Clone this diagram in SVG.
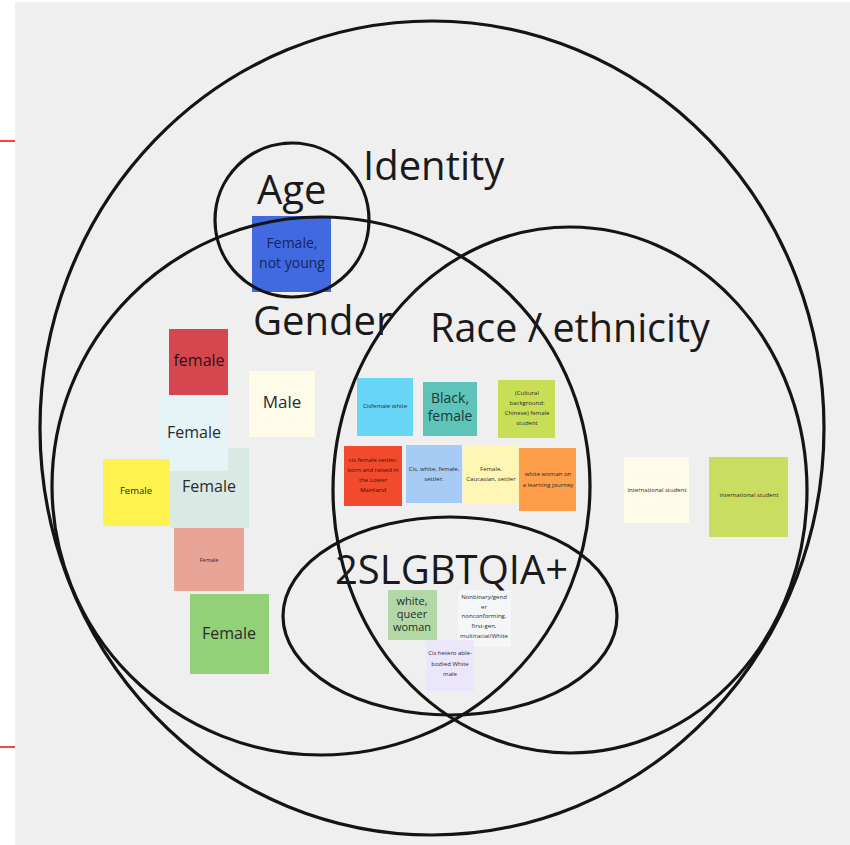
<svg xmlns="http://www.w3.org/2000/svg" width="850" height="845" viewBox="0 0 850 845">
  <style>
    .set { fill: none; stroke: #141414; stroke-width: 3.2; }
    .label { font-family: "Open Sans", "Liberation Sans", sans-serif; fill: #1a1a1a; }
    .note text { font-family: "Open Sans", "Liberation Sans", sans-serif; fill: #2a2a2a; text-anchor: middle; }
    .s6 { font-size: 6px; }
    .s16 { font-size: 16px; }
  </style>

  <!-- canvas -->
  <rect x="0" y="0" width="850" height="845" fill="#ffffff"/>
  <rect x="15" y="2" width="835" height="843" fill="#efefef"/>
  <line x1="0" y1="141" x2="15" y2="141" stroke="#ff1010" stroke-width="1.6"/>
  <line x1="0" y1="747" x2="15" y2="747" stroke="#ff1010" stroke-width="1.6"/>

  <!-- sticky notes: Gender -->
  <g id="note-gender-greygreen" class="note">
    <rect x="170" y="448" width="79" height="80" fill="#d9e9e4"/>
    <text x="209" y="492" class="s16">Female</text>
  </g>
  <g id="note-gender-red" class="note">
    <rect x="169" y="329" width="59" height="66" fill="#d6464f"/>
    <text x="199" y="366" class="s16" style="fill:#2a1414">female</text>
  </g>
  <g id="note-gender-paleblue" class="note">
    <rect x="159" y="396" width="69" height="75" fill="#e5f5f7"/>
    <text x="194" y="438" class="s16">Female</text>
  </g>
  <g id="note-gender-yellow" class="note">
    <rect x="103" y="459" width="67" height="67" fill="#fef24f"/>
    <text x="136" y="494" style="font-size:9.5px">Female</text>
  </g>
  <g id="note-gender-male" class="note">
    <rect x="249" y="371" width="66" height="66" fill="#fefce9"/>
    <text x="282" y="408" style="font-size:17px">Male</text>
  </g>
  <g id="note-gender-salmon" class="note">
    <rect x="174" y="528" width="70" height="63" fill="#e8a497"/>
    <text x="209" y="562" style="font-size:5.5px">Female</text>
  </g>
  <g id="note-gender-green" class="note">
    <rect x="190" y="594" width="79" height="80" fill="#93d179"/>
    <text x="229" y="639" class="s16">Female</text>
  </g>

  <!-- sticky notes: Age -->
  <g id="note-age" class="note">
    <rect x="252" y="216" width="79" height="76" fill="#4169e0"/>
    <text x="292" y="248" style="font-size:14px;fill:#15255e">Female,</text>
    <text x="292" y="268" style="font-size:14px;fill:#15255e">not young</text>
  </g>

  <!-- sticky notes: Race / ethnicity -->
  <g id="note-race-cisfemale" class="note">
    <rect x="357" y="378" width="56" height="58" fill="#67d5f5"/>
    <text x="385" y="408" class="s6">Cisfemale white</text>
  </g>
  <g id="note-race-black" class="note">
    <rect x="423" y="382" width="54" height="54" fill="#5ec3b9"/>
    <text x="450" y="403" style="font-size:14px;fill:#1c3838">Black,</text>
    <text x="450" y="421" style="font-size:14px;fill:#1c3838">female</text>
  </g>
  <g id="note-race-cultural" class="note">
    <rect x="498" y="380" width="57" height="58" fill="#c9de57"/>
    <text x="527" y="395" class="s6">(Cultural</text>
    <text x="527" y="405" class="s6">background:</text>
    <text x="527" y="415" class="s6">Chinese) female</text>
    <text x="527" y="425" class="s6">student</text>
  </g>
  <g id="note-race-settler" class="note">
    <rect x="344" y="446" width="58" height="60" fill="#f24a2d"/>
    <text x="373" y="462" class="s6" style="fill:#3a1208">cis female settler,</text>
    <text x="373" y="472" class="s6" style="fill:#3a1208">born and raised in</text>
    <text x="373" y="482" class="s6" style="fill:#3a1208">the Lower</text>
    <text x="373" y="492" class="s6" style="fill:#3a1208">Mainland</text>
  </g>
  <g id="note-race-ciswhite" class="note">
    <rect x="406" y="445" width="56" height="58" fill="#a6cbf4"/>
    <text x="434" y="471" class="s6">Cis, white, female,</text>
    <text x="434" y="481" class="s6">settler.</text>
  </g>
  <g id="note-race-caucasian" class="note">
    <rect x="463" y="445" width="57" height="58" fill="#fff6b6"/>
    <text x="491" y="471" class="s6">Female,</text>
    <text x="491" y="481" class="s6">Caucasian, settler</text>
  </g>
  <g id="note-race-learning" class="note">
    <rect x="519" y="448" width="57" height="63" fill="#fe9d4a"/>
    <text x="548" y="476" class="s6">white woman on</text>
    <text x="548" y="487" class="s6">a learning journey</text>
  </g>

  <!-- sticky notes: 2SLGBTQIA+ -->
  <g id="note-queer" class="note">
    <rect x="388" y="590" width="49" height="50" fill="#b2d8a5"/>
    <text x="412" y="605" style="font-size:11px">white,</text>
    <text x="412" y="618" style="font-size:11px">queer</text>
    <text x="412" y="631" style="font-size:11px">woman</text>
  </g>
  <g id="note-nonbinary" class="note">
    <rect x="458" y="590" width="53" height="57" fill="#f5f6f8"/>
    <text x="484" y="599" class="s6">Nonbinary/gend</text>
    <text x="484" y="608.5" class="s6">er</text>
    <text x="484" y="618" class="s6">nonconforming,</text>
    <text x="484" y="628" class="s6">first-gen,</text>
    <text x="484" y="638" class="s6">multiracial/White</text>
  </g>
  <g id="note-cishetero" class="note">
    <rect x="426" y="640" width="48" height="51" fill="#ebe6fa"/>
    <text x="450" y="655" class="s6">Cis hetero able-</text>
    <text x="450" y="666" class="s6">bodied White</text>
    <text x="450" y="676" class="s6">male</text>
  </g>

  <!-- sticky notes: outside the subsets -->
  <g id="note-international-1" class="note">
    <rect x="624" y="457" width="65" height="66" fill="#fefbe9"/>
    <text x="657" y="492" class="s6">international student</text>
  </g>
  <g id="note-international-2" class="note">
    <rect x="709" y="457" width="79" height="80" fill="#c9de61"/>
    <text x="749" y="497" class="s6">international student</text>
  </g>

  <!-- set outlines -->
  <g id="sets">
    <ellipse class="set" cx="432" cy="428" rx="392" ry="407"/>
    <circle class="set" cx="321" cy="486" r="269"/>
    <ellipse class="set" cx="570" cy="490" rx="237" ry="263"/>
    <circle class="set" cx="292" cy="220" r="77"/>
    <ellipse class="set" cx="450" cy="616" rx="167" ry="99"/>
  </g>

  <!-- set labels -->
  <g id="set-labels">
    <text class="label" x="363" y="180" font-size="40">Identity</text>
    <text class="label" x="257" y="204" font-size="40">Age</text>
    <text class="label" x="253" y="335" font-size="40">Gender</text>
    <text class="label" x="430" y="342" font-size="39.5">Race / ethnicity</text>
    <text class="label" x="335" y="584" font-size="40">2SLGBTQIA+</text>
  </g>
</svg>
